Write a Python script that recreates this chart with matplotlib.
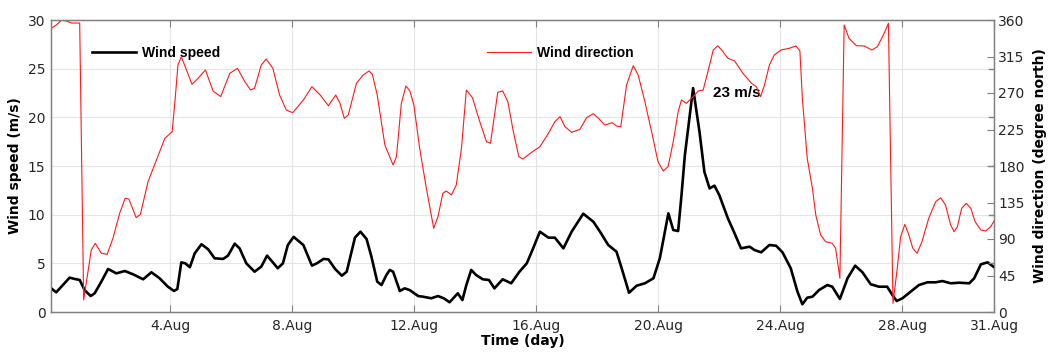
import matplotlib
matplotlib.use("Agg")
import matplotlib.pyplot as plt
from matplotlib.lines import Line2D

# Time in days of August (fractional), wind speed in m/s
speed_day = [0.11, 0.27, 0.44, 0.71, 0.88, 1.04, 1.2, 1.4, 1.53, 1.75, 1.97, 2.24, 2.52, 2.79,
             3.12, 3.39, 3.66, 3.93, 4.13, 4.24, 4.37, 4.5, 4.65, 4.81, 5.03, 5.25, 5.46, 5.74,
             5.9, 6.12, 6.28, 6.5, 6.77, 6.99, 7.18, 7.37, 7.53, 7.7, 7.86, 8.05, 8.37, 8.65,
             8.81, 9.03, 9.19, 9.41, 9.63, 9.79, 10.06, 10.24, 10.44, 10.6, 10.79, 10.93, 11.09,
             11.2, 11.31, 11.53, 11.69, 11.85, 12.13, 12.29, 12.56, 12.78, 12.97, 13.16, 13.43,
             13.58, 13.71, 13.87, 14.03, 14.25, 14.45, 14.63, 14.9, 15.18, 15.45, 15.69, 15.88,
             16.12, 16.4, 16.61, 16.89, 17.16, 17.54, 17.87, 18.09, 18.36, 18.63, 18.8, 19.04,
             19.29, 19.56, 19.84, 20.05, 20.33, 20.49, 20.65, 20.76, 20.87, 21.14, 21.35, 21.51,
             21.68, 21.84, 22.0, 22.28, 22.5, 22.71, 22.99, 23.15, 23.37, 23.64, 23.86, 24.07,
             24.34, 24.56, 24.72, 24.88, 25.05, 25.27, 25.54, 25.7, 25.95, 26.2, 26.45, 26.69,
             26.96, 27.23, 27.5, 27.67, 27.81, 28.0, 28.27, 28.54, 28.82, 29.09, 29.31, 29.58,
             29.86, 30.19, 30.35, 30.57, 30.79, 30.98]
speed = [2.43, 2.02, 2.6, 3.53, 3.39, 3.29, 2.26, 1.64, 1.92, 3.12, 4.42, 3.97, 4.21, 3.87,
         3.36, 4.08, 3.46, 2.6, 2.16, 2.36, 5.1, 5.0, 4.6, 6.03, 6.96, 6.44, 5.52, 5.45,
         5.79, 7.02, 6.54, 5.0, 4.14, 4.66, 5.79, 5.1, 4.49, 5.0, 6.88, 7.72, 6.88, 4.76,
         5.0, 5.45, 5.41, 4.42, 3.73, 4.14, 7.64, 8.25, 7.5, 5.68, 3.12, 2.77, 3.8,
         4.32, 4.14, 2.16, 2.43, 2.26, 1.64, 1.57, 1.41, 1.64, 1.41, 1.0, 1.92,
         1.23, 2.77, 4.32, 3.8, 3.36, 3.29, 2.43, 3.36, 2.95, 4.14, 5.0, 6.4,
         8.25, 7.64, 7.64, 6.54, 8.25, 10.1, 9.28, 8.25, 6.88, 6.2, 4.49, 1.98,
         2.7, 2.95, 3.46, 5.52, 10.14, 8.42, 8.32, 12.0, 16.1, 23.0, 18.5, 14.4,
         12.7, 12.98, 12.0, 9.62, 8.08, 6.54, 6.71, 6.37, 6.13, 6.88, 6.81, 6.13,
         4.49, 2.09, 0.79, 1.47, 1.57, 2.26, 2.77, 2.6, 1.34, 3.46, 4.76, 4.08,
         2.85, 2.6, 2.6, 1.75, 1.13, 1.41, 2.09, 2.77, 3.05, 3.05, 3.18, 2.95,
         3.01, 2.95, 3.46, 4.9, 5.1, 4.66]

# Wind direction in degrees from north
dir_day = [0.11, 0.27, 0.44, 0.6, 0.77, 1.04, 1.17, 1.33, 1.42, 1.55, 1.75, 1.94, 2.13, 2.35,
           2.53, 2.65, 2.89, 3.03, 3.28, 3.49, 3.83, 4.07, 4.17, 4.26, 4.37, 4.54, 4.72, 4.92,
           5.16, 5.41, 5.66, 5.96, 6.21, 6.45, 6.64, 6.77, 6.99, 7.15, 7.37, 7.59, 7.81, 8.02,
           8.37, 8.65, 8.92, 9.19, 9.43, 9.57, 9.71, 9.84, 10.11, 10.33, 10.52, 10.63, 10.79,
           11.04, 11.31, 11.42, 11.58, 11.73, 11.86, 11.99, 12.18, 12.4, 12.64, 12.78, 12.94,
           13.05, 13.22, 13.38, 13.55, 13.71, 13.91, 14.15, 14.37, 14.5, 14.74, 14.9, 15.07,
           15.25, 15.43, 15.56, 15.85, 16.12, 16.4, 16.61, 16.78, 16.94, 17.16, 17.43, 17.65,
           17.87, 18.04, 18.25, 18.49, 18.63, 18.77, 18.96, 19.18, 19.34, 19.56, 19.78, 19.99,
           20.16, 20.32, 20.49, 20.65, 20.76, 20.92, 21.09, 21.31, 21.47, 21.64, 21.8, 21.95,
           22.1, 22.28, 22.5, 22.77, 23.05, 23.21, 23.35, 23.48, 23.64, 23.8, 24.02, 24.29,
           24.51, 24.64, 24.72, 24.88, 25.05, 25.16, 25.32, 25.48, 25.7, 25.81, 25.95, 26.09,
           26.25, 26.49, 26.74, 27.0, 27.18, 27.4, 27.54, 27.69, 27.83, 27.94, 28.08, 28.21,
           28.34, 28.48, 28.64, 28.86, 29.09, 29.25, 29.41, 29.58, 29.69, 29.8, 29.94, 30.09,
           30.24, 30.38, 30.57, 30.73, 30.89, 31.0]
direction = [349.8, 353.8, 359.6, 358.8, 356.3, 356.3, 14.8, 53.9, 76.4, 84.7, 72.4, 71.1, 90.9, 121.7,
             140.2, 139.3, 116.3, 120.4, 160.7, 181.2, 214.1, 222.3, 263.5, 304.5, 314.8, 298.4, 280.7, 288.1,
             298.4, 272.5, 265.5, 294.3, 300.4, 284.0, 273.7, 275.8, 304.5, 311.9, 300.4, 267.5, 249.0, 245.7,
             261.4, 277.8, 267.5, 254.3, 267.5, 257.3, 238.8, 242.9, 282.0, 292.2, 297.1, 293.0, 267.5,
             205.9, 181.2, 191.5, 257.3, 278.6, 272.5, 255.2, 201.8, 152.5, 103.2, 117.5, 146.3,
             149.2, 144.3, 156.6, 201.8, 273.7, 264.2, 234.6, 210.0, 208.0, 270.9, 272.5, 259.3,
             222.3, 191.5, 188.6, 196.9, 203.8, 220.3, 234.6, 240.8, 228.5, 221.5, 225.2, 239.6,
             244.5, 238.8, 230.5, 233.4, 229.3, 228.5, 279.9, 303.7, 292.2, 259.3, 222.3, 185.3,
             173.8, 179.2, 210.0, 247.0, 261.4, 257.3, 263.5, 272.5, 273.7, 298.4, 323.0, 328.3,
             321.8, 312.8, 309.5, 294.3, 282.0, 277.8, 265.5, 279.9, 304.5, 316.9, 323.0, 325.1,
             328.0, 321.8, 263.5, 189.5, 152.5, 119.6, 94.9, 86.7, 84.7, 78.5, 41.5, 353.8,
             337.4, 328.3, 328.0, 323.0, 327.1, 343.6, 355.9, 10.7, 53.9, 92.8, 108.1, 94.9,
             78.5, 72.4, 86.7, 115.5, 136.0, 140.9, 131.9, 107.3, 99.0, 105.2, 127.8, 134.0,
             127.8, 111.3, 101.1, 99.9, 105.2, 112.0]

x_ticks = [4, 8, 12, 16, 20, 24, 28, 31]
x_tick_labels = ["4.Aug", "8.Aug", "12.Aug", "16.Aug", "20.Aug", "24.Aug", "28.Aug", "31.Aug"]
speed_ticks = [0, 5, 10, 15, 20, 25, 30]
dir_ticks = [0, 45, 90, 135, 180, 225, 270, 315, 360]

spine_grey = "#808080"
text_grey = "#262626"

fig = plt.figure(figsize=(10.49, 3.52), dpi=100)
ax = fig.add_axes([51 / 1049, 40 / 352, 943 / 1049, 292 / 352])
ax2 = ax.twinx()

# Wind speed on the left axis
ax.plot(speed_day, speed, color="black", lw=1.9, zorder=3)
ax.set_xlim(0.1, 31)
ax.set_ylim(0, 30)
ax.set_yticks(speed_ticks)
ax.set_xticks(x_ticks)
ax.set_xticklabels(x_tick_labels)
ax.grid(True, color="#e5e5e5", lw=0.8)
ax.set_axisbelow(True)
ax.tick_params(axis="x", direction="in", length=5, color=spine_grey, top=True,
               labelsize=10, labelcolor=text_grey, pad=5)
ax.tick_params(axis="y", direction="in", length=0, right=True, labelsize=10,
               labelcolor=text_grey, pad=4)
ax.tick_params(axis="y", which="both", right=True)
for side in ["left", "right", "top", "bottom"]:
    ax.spines[side].set_color(spine_grey)
    ax.spines[side].set_linewidth(1.0)
ax.set_xlabel("Time (day)", fontsize=10, fontweight="bold", labelpad=1)
ax.set_ylabel("Wind speed (m/s)", fontsize=10, fontweight="bold", labelpad=4)

# left-axis ticks mirrored on the right spine
for v in speed_ticks[1:-1]:
    ax.plot([31 - 0.16, 31], [v, v], color=spine_grey, lw=1.0, clip_on=False, zorder=4)

# Wind direction on the right axis
ax2.plot(dir_day, direction, color="#ff1a1a", lw=0.8, zorder=2)
ax2.set_ylim(0, 360)
ax2.set_yticks(dir_ticks)
ax2.tick_params(axis="y", direction="in", length=5, color=spine_grey, labelsize=10,
                labelcolor=text_grey, pad=3)
for side in ["left", "right", "top", "bottom"]:
    ax2.spines[side].set_color(spine_grey)
ax2.set_ylabel("Wind direction (degree north)", fontsize=10, fontweight="bold", labelpad=6)

# Peak annotation
peak_i = max(range(len(speed)), key=lambda i: speed[i])
ax.annotate(f"{speed[peak_i]:.0f} m/s", xy=(speed_day[peak_i], speed[peak_i]),
            xytext=(20, -5), textcoords="offset pixels", ha="left", va="center",
            fontsize=11, fontweight="bold", family="Liberation Sans", zorder=5)

# Legend entries placed side by side
leg_font = {"family": "Liberation Sans", "weight": "bold", "size": 10}
leg1 = ax.legend(handles=[Line2D([], [], color="black", lw=1.9)], labels=["Wind speed"],
                 loc="center left", bbox_to_anchor=(0.0435, 0.887), frameon=False,
                 borderpad=0, borderaxespad=0, handlelength=3.2, handletextpad=0.4, prop=leg_font)
ax2.legend(handles=[Line2D([], [], color="#ff1a1a", lw=0.8)], labels=["Wind direction"],
           loc="center left", bbox_to_anchor=(0.462, 0.887), frameon=False,
           borderpad=0, borderaxespad=0, handlelength=3.2, handletextpad=0.4, prop=leg_font)

fig.savefig("out.png", dpi=100)
